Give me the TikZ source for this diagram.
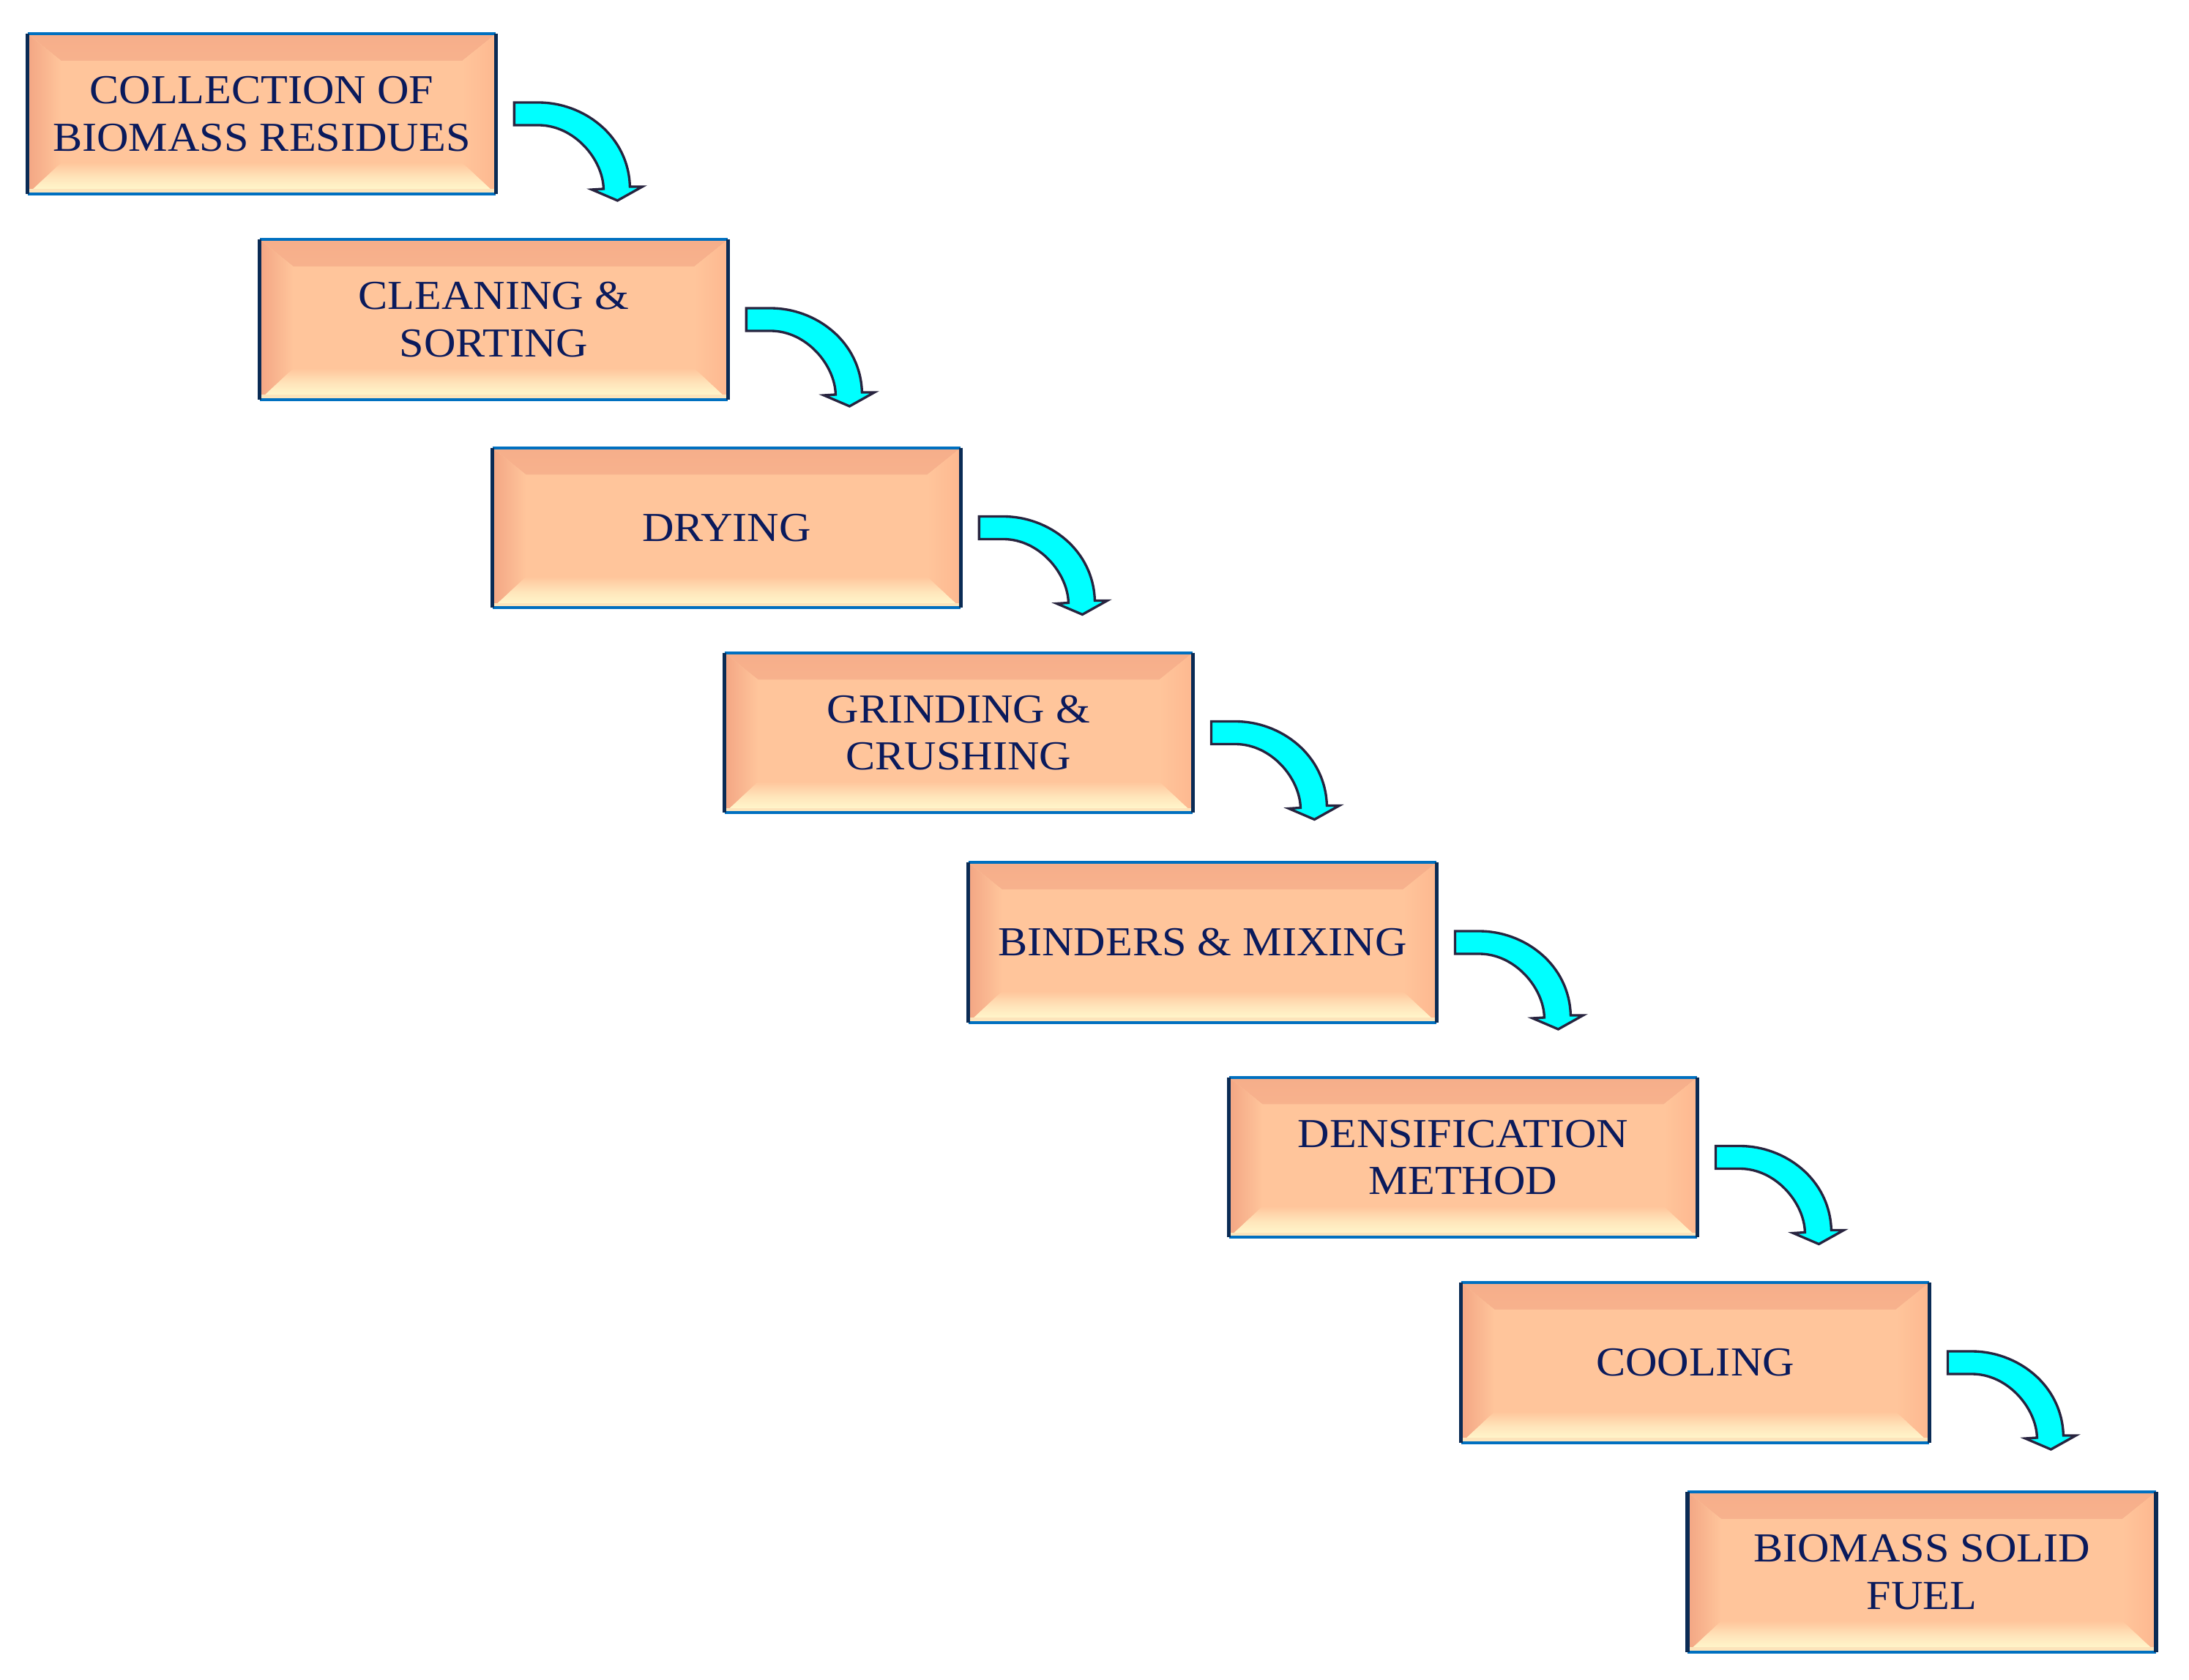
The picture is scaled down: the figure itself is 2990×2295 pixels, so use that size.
\documentclass[tikz,border=0pt]{standalone}
\usepackage{fontspec}
\setmainfont[FakeStretch=1.07]{Liberation Serif}
\usepackage{tikz}
\usetikzlibrary{calc}

\definecolor{boxface}{HTML}{FFC59B}
\definecolor{bevtop}{HTML}{F6AE8A}
\definecolor{bevleft}{HTML}{F3A684}
\definecolor{bevright}{HTML}{FDB890}
\definecolor{bevlow}{HTML}{FFFBD0}
\definecolor{boxtext}{HTML}{0A1A5C}
\definecolor{edgeblue}{HTML}{0070C0}
\definecolor{edgenavy}{HTML}{0A2B55}
\definecolor{arrowfill}{HTML}{00FFFF}
\definecolor{arrowline}{HTML}{28243F}

\tikzset{
  bendarrow/.pic={
    \filldraw[fill=arrowfill,draw=arrowline,line width=0.95pt,line join=miter]
      (0,-15.5) -- (33,-15.5) .. controls (95,-15.5) and (156,30) .. (158,99.5)
      -- (175,99.5) -- (141,118.5) -- (106,103.5) -- (122,102.5)
      .. controls (121,62) and (82,15.5) .. (33,15.5) -- (0,15.5) -- cycle;
  }
}

\begin{document}
\begin{tikzpicture}[x=0.01cm,y=-0.01cm,
  stepbox/.style={minimum width=6.38cm,minimum height=2.17cm,inner sep=0pt,
    align=center,font=\fontsize{16}{18.3}\selectfont,text=boxtext,fill=boxface,
    path picture={
      \fill[top color=bevtop,bottom color=boxface,middle color=bevtop!50!boxface]
        (path picture bounding box.north west) -- (path picture bounding box.north east)
        -- ([xshift=-0.45cm,yshift=-0.36cm]path picture bounding box.north east)
        -- ([xshift=0.45cm,yshift=-0.36cm]path picture bounding box.north west) -- cycle;
      \fill[top color=boxface,bottom color=bevlow,middle color=bevlow!60!boxface]
        (path picture bounding box.south west) -- (path picture bounding box.south east)
        -- ([xshift=-0.45cm,yshift=0.42cm]path picture bounding box.south east)
        -- ([xshift=0.45cm,yshift=0.42cm]path picture bounding box.south west) -- cycle;
      \fill[left color=bevleft,right color=boxface]
        (path picture bounding box.north west) -- (path picture bounding box.south west)
        -- ([xshift=0.45cm,yshift=0.42cm]path picture bounding box.south west)
        -- ([xshift=0.45cm,yshift=-0.36cm]path picture bounding box.north west) -- cycle;
      \fill[left color=boxface,right color=bevright]
        (path picture bounding box.north east) -- (path picture bounding box.south east)
        -- ([xshift=-0.45cm,yshift=0.42cm]path picture bounding box.south east)
        -- ([xshift=-0.45cm,yshift=-0.36cm]path picture bounding box.north east) -- cycle;
      \fill[bevlow!70!bevtop]
        ([yshift=0.06cm]path picture bounding box.south west) rectangle
        (path picture bounding box.south east);
    }}]
\useasboundingbox (0,0) rectangle (2990,2295);

\node[stepbox] (b1) at (357.5,155.5) {COLLECTION OF\\BIOMASS RESIDUES};
\node[stepbox] (b2) at (674.5,436.5) {CLEANING \&\\SORTING};
\node[stepbox] (b3) at (992.5,721) {DRYING};
\node[stepbox] (b4) at (1309.5,1001) {GRINDING \&\\CRUSHING};
\node[stepbox] (b5) at (1642.5,1287.5) {BINDERS \& MIXING};
\node[stepbox] (b6) at (1998.5,1581) {DENSIFICATION\\METHOD};
\node[stepbox] (b7) at (2315.5,1861.5) {COOLING};
\node[stepbox] (b8) at (2625,2147.5) {BIOMASS SOLID\\FUEL};

\foreach \i in {1,...,8}{
  \draw[edgeblue,line width=0.04cm] (b\i.north west) -- (b\i.north east)
    (b\i.south west) -- (b\i.south east);
  \draw[edgenavy,line width=0.055cm] (b\i.north west) -- (b\i.south west)
    (b\i.north east) -- (b\i.south east);
}

\foreach \i in {1,...,7}
  \pic at ([xshift=0.25cm]b\i.east) {bendarrow};
\end{tikzpicture}
\end{document}
